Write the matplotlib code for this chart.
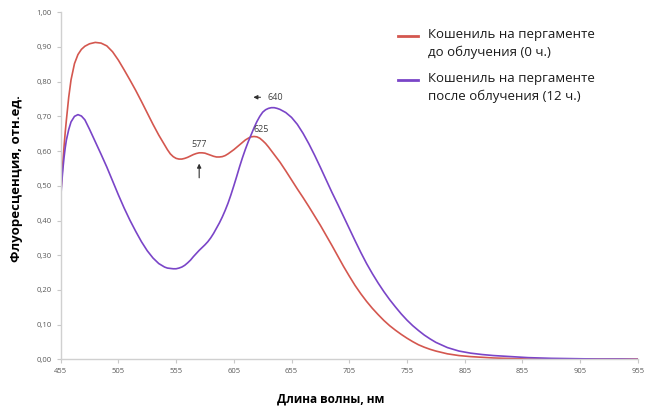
import matplotlib.pyplot as plt
from matplotlib.lines import Line2D
from matplotlib.ticker import FuncFormatter

# wavelength, nm (finer step where the curves bend)
wavelength = [455, 456, 457, 458, 459, 460, 462, 464, 467, 470, 473, 476, 480,
              485, 490, 495, 500, 505, 510, 515, 520, 525, 530, 535, 540,
              545, 547.5, 550, 552.5, 555, 557.5, 560, 562.5, 565, 567.5, 570, 572.5, 575, 577.5,
              580, 582.5, 585, 587.5, 590, 592.5, 595, 597.5, 600, 602.5, 605, 607.5, 610, 612.5,
              615, 617.5, 620, 622.5, 625, 627.5, 630, 632.5, 635, 637.5, 640, 642.5, 645,
              650, 655, 660, 665, 670, 675, 680, 685, 690, 695, 700, 705, 710, 715, 720,
              725, 730, 735, 740, 745, 750, 755, 760, 765, 770, 775, 780,
              790, 800, 810, 820, 830, 840, 850, 860, 870, 880, 900, 920, 940, 955]

# cochineal on parchment, before irradiation (0 h)
before = [0.47, 0.52, 0.57, 0.615, 0.655, 0.69, 0.755, 0.805, 0.852, 0.878, 0.893, 0.902, 0.909,
          0.913, 0.911, 0.903, 0.886, 0.862, 0.834, 0.805, 0.775, 0.743, 0.710, 0.677, 0.646,
          0.618, 0.604, 0.592, 0.584, 0.579, 0.577, 0.577, 0.579, 0.582, 0.586, 0.590, 0.593, 0.595, 0.595,
          0.594, 0.591, 0.588, 0.585, 0.583, 0.583, 0.584, 0.587, 0.592, 0.598, 0.604, 0.611, 0.618, 0.625,
          0.632, 0.637, 0.641, 0.642, 0.641, 0.637, 0.630, 0.622, 0.612, 0.601, 0.590, 0.579, 0.568,
          0.543, 0.517, 0.491, 0.466, 0.440, 0.413, 0.386, 0.357, 0.328, 0.298, 0.268, 0.240, 0.213, 0.189, 0.167,
          0.147, 0.129, 0.112, 0.097, 0.084, 0.072, 0.061, 0.051, 0.042, 0.035, 0.029, 0.024,
          0.016, 0.011, 0.008, 0.006, 0.004, 0.003, 0.002, 0.001, 0.001, 0.001, 0.001, 0.001, 0.001, 0.001]

# cochineal on parchment, after irradiation (12 h)
after = [0.46, 0.51, 0.55, 0.583, 0.61, 0.632, 0.662, 0.684, 0.700, 0.705, 0.701, 0.690, 0.663,
         0.627, 0.591, 0.554, 0.514, 0.474, 0.436, 0.401, 0.369, 0.339, 0.313, 0.292, 0.276,
         0.266, 0.263, 0.262, 0.261, 0.261, 0.263, 0.266, 0.271, 0.278, 0.286, 0.296, 0.305, 0.314, 0.322,
         0.330, 0.339, 0.350, 0.363, 0.378, 0.393, 0.410, 0.429, 0.450, 0.474, 0.500, 0.527, 0.555, 0.581,
         0.605, 0.627, 0.647, 0.667, 0.685, 0.700, 0.712, 0.719, 0.723, 0.725, 0.725, 0.723, 0.720,
         0.711, 0.697, 0.677, 0.651, 0.621, 0.588, 0.553, 0.517, 0.481, 0.447, 0.412, 0.377, 0.342, 0.308, 0.276,
         0.247, 0.220, 0.195, 0.172, 0.151, 0.131, 0.113, 0.097, 0.083, 0.070, 0.059, 0.049,
         0.034, 0.024, 0.018, 0.014, 0.011, 0.009, 0.007, 0.005, 0.004, 0.003, 0.002, 0.001, 0.001, 0.0]

labels = ["Кошениль на пергаменте\nдо облучения (0 ч.)",
          "Кошениль на пергаменте\nпосле облучения (12 ч.)"]
colors = ["#d4574f", "#7a45c8"]

x_ticks = list(range(455, 956, 50))
y_ticks = [i / 10 for i in range(11)]

plt.rcParams['font.family'] = ['Open Sans', 'DejaVu Sans']

fig = plt.figure(figsize=(6.45, 4.07), dpi=100)
ax = fig.add_axes([0.094, 0.117, 0.895, 0.853])

for ys, col in zip([before, after], colors):
    ax.plot(wavelength, ys, color=col, lw=1.2, solid_joinstyle="round")

ax.set_xlim(455, 955)
ax.set_ylim(0, 1.0)
ax.set_xticks(x_ticks)
ax.set_yticks(y_ticks)
ax.yaxis.set_major_formatter(FuncFormatter(lambda v, p: f"{v:.2f}".replace(".", ",")))

for s in ["top", "right"]:
    ax.spines[s].set_visible(False)
for s in ["left", "bottom"]:
    ax.spines[s].set_color("#d0d0d0")
    ax.spines[s].set_linewidth(1.0)
ax.tick_params(axis="both", colors="#c8c8c8", labelcolor="#595959", labelsize=5.5, length=3, width=0.8)

ax.set_xlabel("Длина волны, нм", fontsize=8.5, fontweight="bold", labelpad=10)
ax.xaxis.set_label_coords(0.467, -0.095)
ax.set_ylabel("Флуоресценция, отн.ед.", fontsize=9.5, fontweight="bold", labelpad=10)
ax.yaxis.set_label_coords(-0.066, 0.52)

# peak annotations
ax.text(575, 0.618, "577", fontsize=6.5, color="#404040", ha="center", va="center")
ax.annotate("", xy=(575, 0.572), xytext=(575, 0.515),
            arrowprops=dict(arrowstyle="-|>", color="#303030", lw=0.8, mutation_scale=6))
ax.text(628.5, 0.662, "625", fontsize=6.5, color="#404040", ha="center", va="center")
ax.text(641, 0.754, "640", fontsize=6.5, color="#404040", ha="center", va="center")
ax.annotate("", xy=(619.5, 0.755), xytext=(630.5, 0.755),
            arrowprops=dict(arrowstyle="-|>", color="#303030", lw=0.8, mutation_scale=6))

# legend, handle aligned with first text line
for i, (lab, col) in enumerate(zip(labels, colors)):
    y = 1 - (36 + i * 44) / 407
    fig.add_artist(Line2D([398 / 645, 418 / 645], [y, y], color=col, lw=2.0))
    fig.text(428 / 645, y + 8 / 407, lab, fontsize=9.5, color="#1a1a1a",
             ha="left", va="top", linespacing=1.45)

fig.savefig("out.png", dpi=100)
